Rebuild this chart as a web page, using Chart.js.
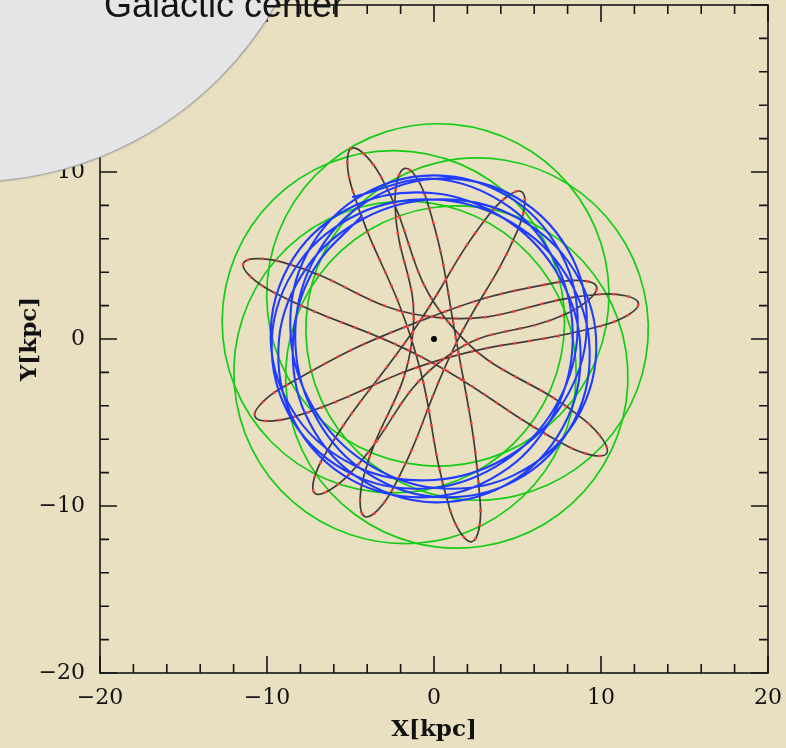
<!DOCTYPE html>
<html>
<head>
<meta charset="utf-8">
<script src="https://cdn.jsdelivr.net/npm/chart.js@4.4.1/dist/chart.umd.min.js"></script>
<style>
  html, body { margin: 0; padding: 0; background: #e9e0c2; }
  #wrap { width: 786px; height: 748px; }
</style>
</head>
<body>
<div id="wrap"><canvas id="orbits" width="786" height="748"></canvas></div>
<script>
// orbit tracks in the galactic plane, kpc
// green: five loops, each starts at its outermost point and runs round once
// (the first points are repeated at the end so the loop closes smoothly)
const greenLoopX = [
  [1.13, -6.36, -9.98, -7.62, -0.66, 6.82, 10.44, 8.08, 1.13, -6.36, -9.98],
  [12.57, 8.01, 0.28, -6.11, -7.41, -2.85, 4.89, 11.27, 12.57, 8.01, 0.28],
  [6.64, 11.31, 10.15, 3.85, -3.91, -8.58, -7.42, -1.12, 6.64, 11.31, 10.15],
  [-8.46, -1.02, 6.00, 8.49, 4.99, -2.45, -9.48, -11.96, -8.46, -1.02, 6.00],
  [-11.87, -11.94, -6.44, 1.40, 7.00, 7.07, 1.57, -6.28, -11.87, -11.94, -6.44]
];
const greenLoopY = [
  [12.85, 10.49, 3.53, -3.95, -7.57, -5.21, 1.75, 9.23, 12.85, 10.49, 3.53],
  [2.90, 9.29, 10.58, 6.03, -1.71, -8.10, -9.39, -4.84, 2.90, 9.29, 10.58],
  [-11.06, -4.75, 3.01, 7.67, 6.51, 0.21, -7.55, -12.22, -11.06, -4.75, 3.01],
  [-9.74, -12.23, -8.73, -1.29, 5.74, 8.23, 4.73, -2.72, -9.74, -12.23, -8.73],
  [5.04, -2.81, -8.40, -8.47, -2.97, 4.88, 10.47, 10.54, 5.04, -2.81, -8.40]
];

const blueOrbitX = [-4.90, 0, 4.55, 7.42, 8.31, 7.31, 4.46, 0, -4.89, -8.41, -9.28, -7.56,
  -4.18, 0, 4.37, 8.04, 9.71, 8.47, 4.73, 0, -4.22, -7.20, -8.57, -7.88,
  -4.80, 0, 4.80, 7.88, 8.57, 7.20, 4.22, 0, -4.73, -8.47, -9.71, -8.04,
  -4.37, 0, 4.18, 7.56, 9.28, 8.41, 4.89, 0, -4.46, -7.31, -8.31, -7.42,
  -4.55, 0, 4.90, 8.31, 9.10, 7.42, 4.16, 0, -4.46, -8.18, -9.78, -8.41,
  -4.64, 0, 4.18, 7.23, 8.73, 8.04, 4.86, 0, -4.73, -7.72, -8.44, -7.20, -4.29];
const blueOrbitY = [8.49, 9.60, 7.88, 4.29, 0, -4.22, -7.72, -9.45, -8.47, -4.86, 0, 4.37,
  7.23, 8.35, 7.56, 4.64, 0, -4.89, -8.18, -8.91, -7.31, -4.16, 0, 4.55,
  8.31, 9.80, 8.31, 4.55, 0, -4.16, -7.31, -8.91, -8.18, -4.89, 0, 4.64,
  7.56, 8.35, 7.23, 4.37, 0, -4.86, -8.47, -9.45, -7.72, -4.22, 0, 4.29,
  7.88, 9.60, 8.49, 4.80, 0, -4.29, -7.20, -8.44, -7.72, -4.73, 0, 4.86,
  8.04, 8.73, 7.23, 4.18, 0, -4.64, -8.41, -9.78, -8.18, -4.46, 0, 4.16, 7.42];

// eccentric orbit: per petal the shoulder in, the tip, the shoulder out,
// then the pass close to the centre; it closes on the first petal again
const darkOrbitX = [
  -9.04, -11.42, -9.73, -0.60,
  8.00, 10.34, 9.03, 1.00,
  -3.21, -4.93, -4.92, -1.24,
  0.94, 2.26, 2.77, 1.28,
  -0.41, -1.74, -2.33, -1.29,
  -4.22, -4.13, -2.45, 1.17,
  4.98, 5.25, 3.30, -1.07,
  -6.54, -7.13, -5.05, 0.75,
  7.96, 9.74, 7.36, -0.46,
  -9.09, -10.72, -8.34, 0.37,
  10.24, 12.24, 9.93, 0.13,
  -9.04, -11.42, -9.73];
const darkOrbitY = [
  4.59, 4.53, 2.86, -1.15,
  -6.42, -6.85, -4.87, 0.83,
  9.78, 11.42, 9.04, -0.38,
  -10.16, -12.14, -9.82, 0.23,
  8.23, 10.22, 7.90, 0.13,
  -8.26, -10.64, -8.95, -0.57,
  6.44, 8.82, 7.45, 0.73,
  -6.93, -9.24, -8.08, -1.06,
  1.53, 3.13, 3.39, 1.22,
  -2.91, -4.65, -4.65, -1.25,
  0.85, 2.14, 2.68, 1.29,
  4.59, 4.53, 2.86];

const centreX = [0];
const centreY = [0];

const axisTicks = [-20, -10, 0, 10, 20];

function pts(xs, ys) {
  return xs.map((x, i) => ({x: x, y: ys[i]}));
}

// first and last pieces only steer the curve; the repeated points draw them again
function hideEnds(n) {
  return {
    borderColor: c => (c.p0DataIndex === 0 || c.p1DataIndex === n - 1) ? 'rgba(0,0,0,0)' : undefined
  };
}

const fmt = v => (v < 0 ? '\u2212' + Math.abs(v) : String(v));

const paper = {
  id: 'paper',
  beforeDraw(chart) {
    const ctx = chart.ctx;
    ctx.save();
    ctx.fillStyle = '#e9e0c2';
    ctx.fillRect(0, 0, chart.width, chart.height);
    ctx.restore();
  }
};

// box round the plot with inward ticks on all four sides
const frame = {
  id: 'frame',
  afterDatasetsDraw(chart) {
    const {ctx, chartArea: a} = chart;
    const sx = chart.scales.x, sy = chart.scales.y;
    ctx.save();
    ctx.strokeStyle = '#151515';
    ctx.lineWidth = 1.6;
    ctx.strokeRect(a.left, a.top, a.right - a.left, a.bottom - a.top);
    ctx.beginPath();
    for (let v = -20; v <= 20; v += 2) {
      const len = v % 10 === 0 ? 17 : 9;
      const px = sx.getPixelForValue(v);
      const py = sy.getPixelForValue(v);
      ctx.moveTo(px, a.bottom); ctx.lineTo(px, a.bottom - len);
      ctx.moveTo(px, a.top); ctx.lineTo(px, a.top + len);
      ctx.moveTo(a.left, py); ctx.lineTo(a.left + len, py);
      ctx.moveTo(a.right, py); ctx.lineTo(a.right - len, py);
    }
    ctx.stroke();
    ctx.restore();
  }
};

// grey page tab in the corner with its caption
const tab = {
  id: 'tab',
  afterDraw(chart) {
    const ctx = chart.ctx;
    ctx.save();
    ctx.shadowColor = 'rgba(0,0,0,0.35)';
    ctx.shadowBlur = 3;
    ctx.beginPath();
    ctx.arc(-30, -170, 352, 0, Math.PI * 2);
    ctx.fillStyle = '#e5e5e7';
    ctx.fill();
    ctx.shadowColor = 'transparent';
    ctx.lineWidth = 1.2;
    ctx.strokeStyle = '#a9a9ab';
    ctx.stroke();
    ctx.fillStyle = '#141414';
    ctx.font = '36px "Liberation Sans", Arial, sans-serif';
    ctx.textBaseline = 'alphabetic';
    ctx.fillText('Galactic center', 104, 17);
    ctx.restore();
  }
};

const greenSets = greenLoopX.map((xs, k) => ({
  label: 'thick disk ' + (k + 1),
  data: pts(xs, greenLoopY[k]),
  showLine: true,
  borderColor: '#14cc14',
  borderWidth: 1.7,
  tension: 0.375,
  pointRadius: 0,
  segment: hideEnds(xs.length)
}));

new Chart(document.getElementById('orbits'), {
  type: 'scatter',
  data: {
    datasets: [
      {
        label: 'centre',
        data: pts(centreX, centreY),
        pointRadius: 3,
        pointBackgroundColor: '#000',
        pointBorderWidth: 0,
        showLine: false
      },
      {
        label: 'thin disk',
        data: pts(blueOrbitX, blueOrbitY),
        showLine: true,
        borderColor: '#1f3cff',
        borderWidth: 2.1,
        tension: 0.36,
        pointRadius: 0
      },
      {
        label: 'halo marks',
        data: pts(darkOrbitX, darkOrbitY),
        showLine: true,
        borderColor: '#ff4040',
        borderWidth: 2.6,
        borderDash: [2.6, 12],
        tension: 0.45,
        pointRadius: 0,
        segment: hideEnds(darkOrbitX.length)
      },
      {
        label: 'halo',
        data: pts(darkOrbitX, darkOrbitY),
        showLine: true,
        borderColor: '#3f3b39',
        borderWidth: 1.7,
        tension: 0.45,
        pointRadius: 0,
        segment: hideEnds(darkOrbitX.length)
      }
    ].concat(greenSets)
  },
  options: {
    responsive: false,
    animation: false,
    layout: {padding: {top: 5, right: 18, bottom: 0, left: 0}},
    plugins: {legend: {display: false}, tooltip: {enabled: false}},
    scales: {
      x: {
        type: 'linear',
        min: -20,
        max: 20,
        afterBuildTicks: s => { s.ticks = axisTicks.map(v => ({value: v})); },
        afterFit: s => { s.height = 75; s.paddingLeft = 0; s.paddingRight = 0; },
        grid: {display: false, drawTicks: false},
        border: {display: false},
        ticks: {
          color: '#111',
          padding: 12,
          font: {family: 'DejaVu Serif', size: 22},
          callback: fmt
        },
        title: {
          display: true,
          text: 'X[kpc]',
          color: '#111',
          font: {family: 'DejaVu Serif', size: 23, weight: 'bold'},
          padding: {top: 0, bottom: 4}
        }
      },
      y: {
        type: 'linear',
        min: -20,
        max: 20,
        afterBuildTicks: s => { s.ticks = axisTicks.map(v => ({value: v})); },
        afterFit: s => { s.width = 100; s.paddingTop = 0; s.paddingBottom = 0; },
        grid: {display: false, drawTicks: false},
        border: {display: false},
        ticks: {
          color: '#111',
          padding: 15,
          font: {family: 'DejaVu Serif', size: 22},
          callback: fmt
        },
        title: {
          display: true,
          text: 'Y[kpc]',
          color: '#111',
          font: {family: 'DejaVu Serif', size: 23, weight: 'bold'},
          padding: {top: 16, bottom: 0}
        }
      }
    }
  },
  plugins: [paper, frame, tab]
});
</script>
</body>
</html>
